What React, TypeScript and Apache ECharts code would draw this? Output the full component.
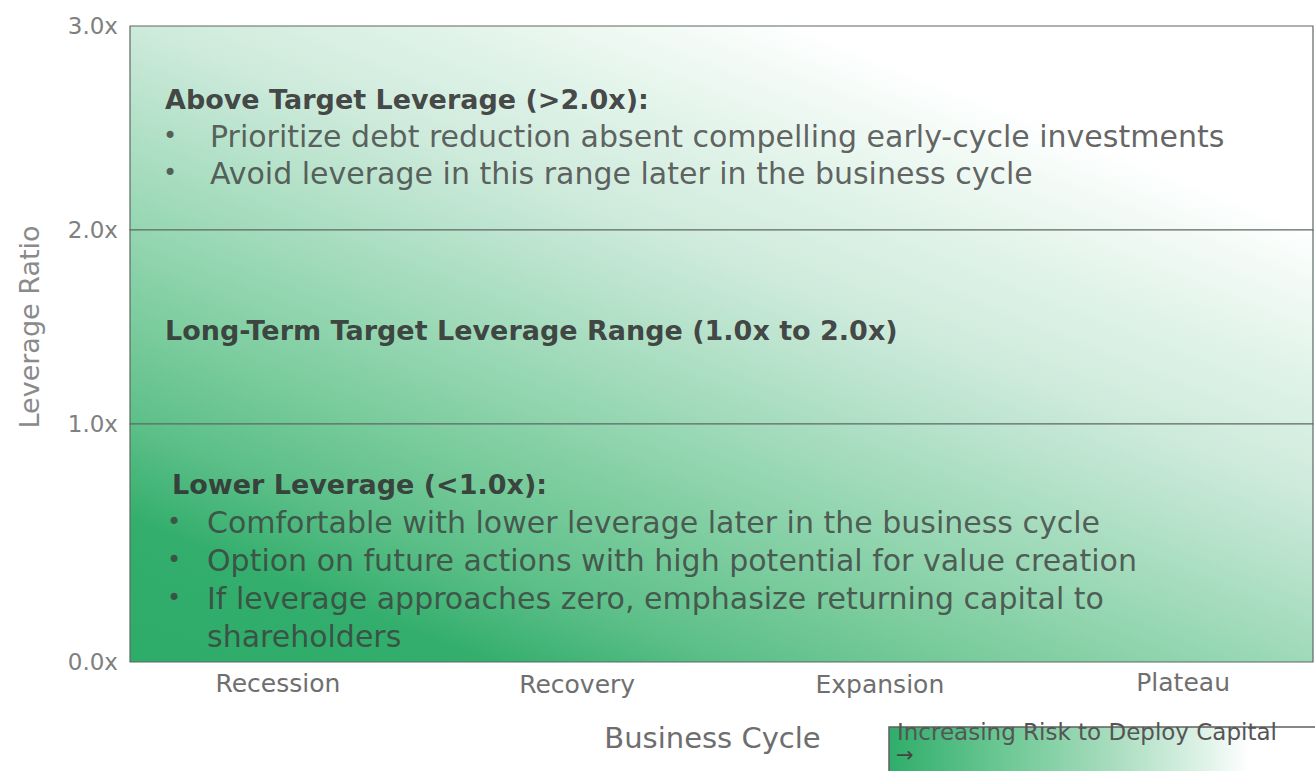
import React, { useEffect, useRef } from 'react';
import * as echarts from 'echarts';

// ---------- data ----------
const phases = ['Recession', 'Recovery', 'Expansion', 'Plateau'];
// bands, listed from top grid to bottom grid
const bandLows = [2, 1, 0];
const bandHighs = [3, 2, 1];
const bandTitles = [
  'Above Target Leverage (>2.0x):',
  'Long-Term Target Leverage Range (1.0x to 2.0x)',
  'Lower Leverage (<1.0x):',
];
const aboveBullets = [
  'Prioritize debt reduction absent compelling early-cycle investments',
  'Avoid leverage in this range later in the business cycle',
];
const lowerBullets = [
  'Comfortable with lower leverage later in the business cycle',
  'Option on future actions with high potential for value creation',
  'If leverage approaches zero, emphasize returning capital to\nshareholders',
];
const yAxisTitle = 'Leverage Ratio';
const xAxisTitle = 'Business Cycle';
const riskLegend = 'Increasing Risk to Deploy Capital';

// ---------- layout / style ----------
const W = 1315;
const H = 771;
const FONT = '"DejaVu Sans", sans-serif';
const GRID_LEFT = 130;
const GRID_RIGHT = 2;
const gridBoxes = [
  { top: 26, height: 204 },
  { top: 230, height: 194 },
  { top: 424, height: 238 },
];

const bgGradient = {
  type: 'linear',
  x: 132,
  y: 662,
  x2: 500,
  y2: -268,
  global: true,
  colorStops: [
    { offset: 0, color: '#2eac69' },
    { offset: 0.13, color: '#33ae6c' },
    { offset: 0.22, color: '#5cbf88' },
    { offset: 0.31, color: '#79cb9c' },
    { offset: 0.4, color: '#94d6b1' },
    { offset: 0.59, color: '#cdeadb' },
    { offset: 0.72, color: '#e5f5ec' },
    { offset: 0.84, color: '#ffffff' },
    { offset: 1, color: '#ffffff' },
  ],
};

const legendGradient = {
  type: 'linear',
  x: 0,
  y: 0,
  x2: 1,
  y2: 0,
  colorStops: [
    { offset: 0, color: '#2fad6a' },
    { offset: 0.26, color: '#6cc894' },
    { offset: 0.5, color: '#a6dcbd' },
    { offset: 0.73, color: '#e2f4ea' },
    { offset: 0.82, color: '#ffffff' },
    { offset: 1, color: '#ffffff' },
  ],
};

const TITLE_COLOR = 'rgba(50,50,50,0.9)';
const BODY_COLOR = 'rgba(60,60,60,0.8)';

function txt(x: number, y: number, text: string, size: number, weight: string, fill: string) {
  return {
    type: 'text',
    x,
    y,
    silent: true,
    z: 10,
    style: {
      text,
      fontSize: size,
      fontWeight: weight,
      fontFamily: FONT,
      fill,
      align: 'left',
      verticalAlign: 'middle',
    },
  };
}

function buildBlock(
  title: string,
  bullets: string[],
  titleX: number,
  titleY: number,
  bulletX: number,
  textX: number,
  step: number
) {
  const els: any[] = [txt(titleX, titleY, title, 27, 'bold', TITLE_COLOR)];
  let y = titleY + step;
  bullets.forEach((b) => {
    const lines = b.split('\n');
    lines.forEach((line, li) => {
      if (li === 0) els.push(txt(bulletX, y, '•', 24, 'normal', BODY_COLOR));
      els.push(txt(textX, y, line, 30, 'normal', BODY_COLOR));
      y += step;
    });
  });
  return els;
}

export default function App() {
  const ref = useRef<HTMLDivElement>(null);

  useEffect(() => {
    if (!ref.current) return;
    const chart = echarts.init(ref.current, undefined, { renderer: 'svg', width: W, height: H });

    const grids = gridBoxes.map((g) => ({
      left: GRID_LEFT,
      right: GRID_RIGHT,
      top: g.top,
      height: g.height,
      show: true,
      backgroundColor: bgGradient,
      borderColor: '#5e6963',
      borderWidth: 1.2,
      containLabel: false,
      outerBoundsMode: 'none',
    }));

    const labelShift = [
      { top: 2, left: 0 },
      { top: 5, left: 7 },
      { top: 4, left: 21 },
      { top: 0, left: 36 },
    ];
    const rich: any = {};
    labelShift.forEach((s, i) => {
      rich['p' + i] = {
        fontSize: 25,
        fontFamily: FONT,
        color: '#6f6f6f',
        lineHeight: 28,
        padding: [s.top, 0, 0, s.left],
      };
    });

    const xAxes = gridBoxes.map((_, i) => ({
      type: 'category',
      gridIndex: i,
      data: phases,
      show: i === 2,
      axisLine: { show: false },
      axisTick: { show: false },
      splitLine: { show: false },
      axisLabel: {
        margin: 6,
        formatter: (v: string, idx: number) => `{p${idx}|${v}}`,
        rich,
      },
      name: i === 2 ? xAxisTitle : undefined,
      nameLocation: 'middle',
      nameGap: 61,
      nameTextStyle: {
        fontSize: 29,
        fontFamily: FONT,
        color: '#6e6e6e',
        padding: [0, 18, 0, 0],
      },
    }));

    const yAxes = gridBoxes.map((_, i) => ({
      type: 'value',
      gridIndex: i,
      min: bandLows[i],
      max: bandHighs[i],
      interval: 1,
      axisLine: { show: false },
      axisTick: { show: false },
      splitLine: { show: false },
      axisLabel: {
        formatter: (v: number) => v.toFixed(1) + 'x',
        fontSize: 23,
        fontFamily: FONT,
        color: '#808080',
        margin: 12,
        showMinLabel: true,
        showMaxLabel: i === 0,
      },
      name: i === 1 ? yAxisTitle : undefined,
      nameLocation: 'middle',
      nameGap: 87,
      nameTextStyle: {
        fontSize: 27,
        fontFamily: FONT,
        color: '#8a8a8a',
      },
    }));

    const series = gridBoxes.map((_, i) => ({
      type: 'line',
      xAxisIndex: i,
      yAxisIndex: i,
      data: [],
      silent: true,
      markArea: {
        silent: true,
        itemStyle: { color: 'rgba(0,0,0,0)' },
        label: { show: false },
        data: [[{ yAxis: bandLows[i] }, { yAxis: bandHighs[i] }]],
      },
    }));

    const graphic: any[] = [
      ...buildBlock(bandTitles[0], aboveBullets, 165, 99, 163, 210, 37),
      txt(165, 330, bandTitles[1], 27, 'bold', TITLE_COLOR),
      ...buildBlock(bandTitles[2], lowerBullets, 172, 484, 167, 207, 38),
      {
        type: 'rect',
        silent: true,
        z: 10,
        shape: { x: 889, y: 727, width: 440, height: 60 },
        style: { fill: legendGradient, stroke: '#5f5f5f', lineWidth: 1.5 },
      },
      txt(897, 732, riskLegend, 23, 'normal', '#555555'),
      txt(896, 755, '→', 21, 'normal', '#444444'),
    ];

    chart.setOption({
      animation: false,
      backgroundColor: '#ffffff',
      grid: grids,
      xAxis: xAxes,
      yAxis: yAxes,
      series,
      graphic,
    });

    return () => {
      chart.dispose();
    };
  }, []);

  return (
    <div
      ref={ref}
      style={{ position: 'fixed', left: 0, top: 0, width: W, height: H, background: '#fff' }}
    />
  );
}
